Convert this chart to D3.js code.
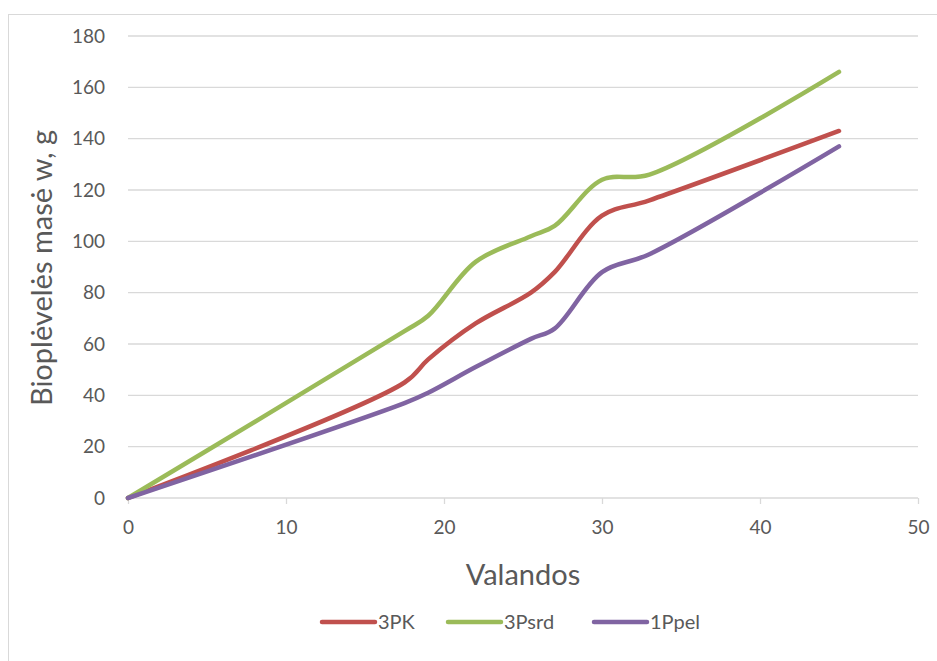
<!DOCTYPE html>
<html>
<head>
<meta charset="utf-8">
<script src="https://cdn.jsdelivr.net/npm/d3@7"></script>
<style>
  body { margin: 0; background: #fff; }
  svg { display: block; font-family: Lato, "Open Sans", sans-serif; }
</style>
</head>
<body>
<svg id="chart" width="937" height="661"></svg>
<script>
// hours
let hours = [0, 17.5, 19, 22, 25.5, 27, 30, 33, 45];
let pk = [0, 45, 54, 68, 80, 88, 110, 116, 143];
let psrd = [0, 65, 71, 92, 102, 106, 124, 126, 166];
let ppel = [0, 37, 41, 51, 62, 66, 88, 95, 137];
let seriesNames = ["3PK", "3Psrd", "1Ppel"];
let seriesColors = ["#c0504d", "#9bbb59", "#8064a2"];
let xTicks = [0, 10, 20, 30, 40, 50];
let yTicks = [0, 20, 40, 60, 80, 100, 120, 140, 160, 180];

let svg = d3.select("#chart");
let textCol = "#595959";

// outer chart border
svg.append("rect").attr("x", 8.5).attr("y", 14.5).attr("width", 940).attr("height", 660)
    .attr("fill", "none").attr("stroke", "#d9d9d9");

let xScale = d3.scaleLinear().domain([0, 50]).range([128, 918]);
let yScale = d3.scaleLinear().domain([0, 180]).range([498, 36]);

// gridlines
svg.append("g").selectAll("line").data(yTicks.slice(1)).enter().append("line")
    .attr("x1", xScale(0)).attr("x2", xScale(50))
    .attr("y1", d => yScale(d)).attr("y2", d => yScale(d))
    .attr("stroke", "#d9d9d9").attr("stroke-width", 1.3);

// x axis
let xAxis = svg.append("g").attr("transform", "translate(0," + yScale(0) + ")")
    .call(d3.axisBottom(xScale).tickValues(xTicks).tickSize(6).tickPadding(17));
xAxis.select(".domain").attr("stroke", "#d9d9d9").attr("stroke-width", 1.3).attr("d", "M" + xScale(0) + ",0H" + xScale(50));
xAxis.selectAll(".tick line").attr("stroke", "#d9d9d9").attr("stroke-width", 1.3);
xAxis.selectAll("text").attr("fill", textCol).attr("font-size", 19).attr("font-family", "Lato, sans-serif");

// y axis labels
let yAxis = svg.append("g").attr("transform", "translate(" + xScale(0) + ",0)")
    .call(d3.axisLeft(yScale).tickValues(yTicks).tickSize(0).tickPadding(23));
yAxis.select(".domain").remove();
yAxis.selectAll("text").attr("fill", textCol).attr("font-size", 19).attr("font-family", "Lato, sans-serif");

// axis titles
svg.append("text").attr("x", 523).attr("y", 585).attr("text-anchor", "middle")
    .attr("fill", textCol).attr("font-size", 29).text("Valandos");
svg.append("text").attr("transform", "translate(52,268) rotate(-90)").attr("text-anchor", "middle")
    .attr("fill", textCol).attr("font-size", 29).text("Bioplėvelės masė w, g");

// lines
let allSeries = [pk, psrd, ppel];
let line = d3.line().x((d, i) => xScale(hours[i])).y(d => yScale(d)).curve(d3.curveCatmullRom.alpha(0.5));
svg.append("g").selectAll("path").data(allSeries).enter().append("path")
    .attr("d", d => line(d)).attr("fill", "none")
    .attr("stroke", (d, i) => seriesColors[i]).attr("stroke-width", 4.5)
    .attr("stroke-linecap", "round").attr("stroke-linejoin", "round");

// legend
let legendX = [322, 448, 594];
let leg = svg.append("g").selectAll("g").data(seriesNames).enter().append("g")
    .attr("transform", (d, i) => "translate(" + legendX[i] + ",622)");
leg.append("line").attr("x1", 0).attr("x2", 53).attr("y1", 0).attr("y2", 0)
    .attr("stroke", (d, i) => seriesColors[i]).attr("stroke-width", 4.5).attr("stroke-linecap", "round");
leg.append("text").attr("x", 56).attr("y", 7).attr("fill", textCol).attr("font-size", 20).text(d => d);
</script>
</body>
</html>
